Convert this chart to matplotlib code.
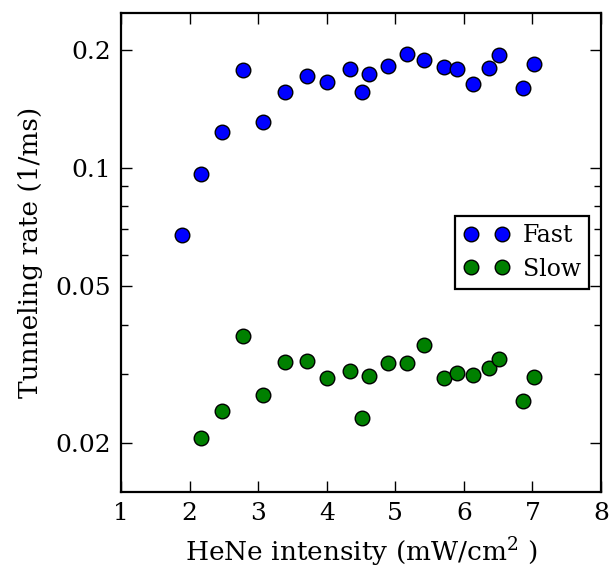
import matplotlib
matplotlib.use("Agg")
import matplotlib.pyplot as plt
from matplotlib.ticker import FixedLocator, FixedFormatter, NullFormatter

plt.rcParams['font.family'] = ['DejaVu Serif']
plt.rcParams['mathtext.fontset'] = 'dejavuserif'

fast_x = [1.89, 2.17, 2.47, 2.78, 3.07, 3.39, 3.71, 4.01, 4.34, 4.52, 4.62,
          4.89, 5.17, 5.42, 5.71, 5.90, 6.13, 6.36, 6.51, 6.87, 7.03]
fast_y = [0.0675, 0.0966, 0.124, 0.178, 0.131, 0.156, 0.172, 0.166, 0.179, 0.156, 0.174,
          0.182, 0.195, 0.189, 0.181, 0.179, 0.164, 0.180, 0.194, 0.160, 0.184]

slow_x = [2.16, 2.48, 2.78, 3.07, 3.39, 3.71, 4.01, 4.34, 4.52, 4.62,
          4.89, 5.17, 5.42, 5.71, 5.90, 6.13, 6.36, 6.51, 6.87, 7.03]
slow_y = [0.0206, 0.0241, 0.0374, 0.0265, 0.0321, 0.0323, 0.0293, 0.0304, 0.0232, 0.0296,
          0.0319, 0.0320, 0.0355, 0.0293, 0.0302, 0.0298, 0.0311, 0.0327, 0.0255, 0.0294]

major_y = [0.02, 0.05, 0.1, 0.2]
major_labels = ['0.02', '0.05', '0.1', '0.2']
minor_y = [0.03, 0.04, 0.06, 0.07, 0.08, 0.09]
x_ticks = [1, 2, 3, 4, 5, 6, 7, 8]

fig = plt.figure(figsize=(6.11, 5.72), dpi=100)
ax = fig.add_axes([0.198, 0.14, 0.7856, 0.838])

ax.plot(fast_x, fast_y, 'o', color='#0000ff', mec='black', mew=1.0, ms=10.5, label='Fast')
ax.plot(slow_x, slow_y, 'o', color='#008000', mec='black', mew=1.0, ms=10.5, label='Slow')

ax.set_yscale('log')
ax.set_xlim(1, 8)
ax.set_ylim(0.015, 0.249)
ax.xaxis.set_major_locator(FixedLocator(x_ticks))
ax.yaxis.set_major_locator(FixedLocator(major_y))
ax.yaxis.set_major_formatter(FixedFormatter(major_labels))
ax.yaxis.set_minor_locator(FixedLocator(minor_y))
ax.yaxis.set_minor_formatter(NullFormatter())
ax.xaxis.set_minor_locator(FixedLocator([]))

ax.tick_params(which='both', direction='in', top=True, right=True, labelsize=18, width=1.0)
ax.tick_params(which='major', length=8, pad=7)
ax.tick_params(which='minor', length=5)
for s in ax.spines.values():
    s.set_linewidth(1.6)

ax.set_xlabel('HeNe intensity (mW/cm$^2$ )', fontsize=19, labelpad=8)
ax.set_ylabel('Tunneling rate (1/ms)', fontsize=19, labelpad=9)

leg = ax.legend(loc='center right', numpoints=2, fontsize=17, fancybox=False,
                framealpha=1, edgecolor='black', borderaxespad=0.5,
                handletextpad=0.6, handlelength=1.9, borderpad=0.35, labelspacing=0.45)
leg.get_frame().set_linewidth(1.6)

fig.savefig('out.png', dpi=100)
